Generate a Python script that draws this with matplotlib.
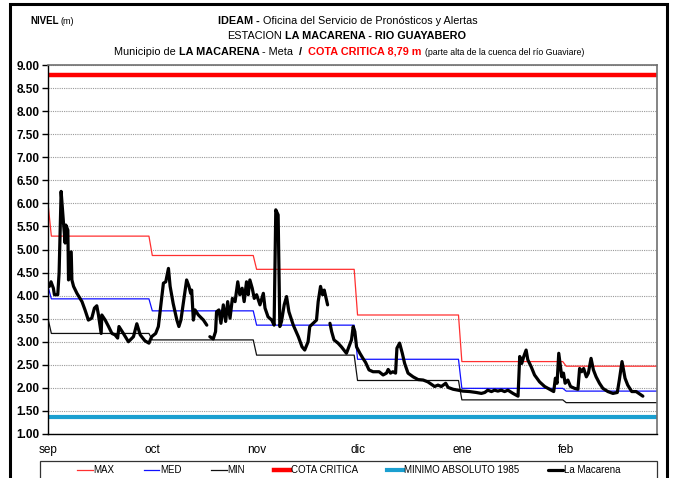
import matplotlib
matplotlib.use("Agg")
import matplotlib.pyplot as plt
import numpy as np
from matplotlib.patches import Rectangle

plt.rcParams['font.family'] = ['Liberation Sans Narrow', 'Liberation Sans', 'DejaVu Sans']

# meses (inicio en dias desde el 1 de sep)
month_labels = ['sep', 'oct', 'nov', 'dic', 'ene', 'feb']
month_start = [0, 30, 61, 91, 122, 153]
last_day = 180

# valores mensuales historicos (primer valor = 31 ago)
max_first, max_vals = 6.00, [5.29, 4.87, 4.57, 3.58, 2.57, 2.47]
med_first, med_vals = 4.20, [3.93, 3.67, 3.36, 2.62, 1.99, 1.93]
min_first, min_vals = 3.50, [3.18, 3.04, 2.71, 2.16, 1.74, 1.68]
cota_critica = 8.79
minimo_abs = 1.37

# serie La Macarena (dia, nivel); None = sin dato
mac_day = [-0.6, -0.1, 0.6, 0.9, 1.9, 2.3, 2.9, 3.6, 4.1, 4.3, 4.9, 5.1, 5.9, 6.1, 6.6,
           7.6, 9.1, 10.0, 11.0, 12.0, 12.8, 13.5, 14.0, 14.8, 15.0, 16.0, 17.0, 18.0,
           18.9, 19.7, 20.1, 21.4, 22.9, 24.4, 25.4, 26.4, 27.8, 29.0, 29.8, 31.0, 31.8,
           32.6, 33.3, 34.0, 34.8, 35.3, 36.2, 37.3, 37.9, 38.5, 39.5, 40.2, 40.9, 41.4,
           41.7, 42.2, 42.7, 43.7, 45.2, 46.2, 46.6,
           47.1, 48.1, 48.8, 49.1, 49.8, 50.4, 51.1, 51.8, 52.4, 53.1, 53.8, 54.6, 55.4,
           56.0, 56.7, 57.3, 58.0, 58.5, 59.0, 59.7, 60.3, 61.0, 62.0, 63.0, 63.5, 64.4,
           65.5, 66.2, 66.7, 67.4, 67.9, 68.4, 69.2, 69.9, 70.6, 71.9, 73.4, 74.5, 75.3,
           76.3, 76.8, 77.8, 78.8, 79.3, 80.0, 80.6, 81.1, 82.1, 82.4,
           82.8, 83.3, 84.0, 85.2, 86.2, 87.7, 89.2, 89.7, 90.2, 90.7, 91.7, 92.6, 93.4,
           94.4, 95.6, 97.4, 98.6, 99.6, 100.1, 100.8, 101.5, 102.3, 102.7, 103.5, 104.3,
           105.0, 106.0, 107.5, 109.0, 110.5, 111.9, 112.9, 113.9, 114.9, 115.9, 117.2,
           117.9, 119.4, 120.8, 122.3, 124.3, 126.3, 127.8, 128.8, 129.7, 130.8, 131.7,
           132.7, 133.7, 134.7, 135.7, 137.2, 138.7, 139.2, 139.8, 140.4, 141.1, 141.6,
           142.6, 143.6, 145.1, 146.6, 148.1, 149.3, 149.8, 150.3, 150.8, 151.3, 151.7,
           152.2, 152.7, 153.5, 154.3, 155.5, 156.5, 157.0, 157.6, 158.2, 159.0, 159.6,
           160.4, 161.1, 161.9, 162.9, 163.9, 165.4, 166.9, 168.2, 168.8, 169.6, 170.5,
           171.3, 172.5, 173.8, 174.8, 175.8]
mac_val = [4.20, 4.30, 4.16, 4.02, 4.02, 4.49, 6.26, 5.58, 5.14, 5.53, 5.42, 4.34, 4.95, 4.34, 4.20,
           4.05, 3.87, 3.69, 3.47, 3.51, 3.73, 3.78, 3.58, 3.18, 3.58, 3.47, 3.33, 3.18,
           3.15, 3.08, 3.33, 3.18, 3.00, 3.11, 3.39, 3.15, 3.02, 2.97, 3.11, 3.18, 3.33,
           3.83, 4.27, 4.30, 4.59, 4.20, 3.83, 3.47, 3.33, 3.47, 3.98, 4.34, 4.20, 4.05,
           4.12, 3.47, 3.69, 3.58, 3.47, 3.36, None,
           3.11, 3.06, 3.22, 3.65, 3.69, 3.40, 3.80, 3.44, 3.87, 3.51, 3.94, 3.87, 4.30,
           4.02, 4.16, 3.87, 4.30, 4.02, 4.34, 4.16, 3.94, 4.02, 3.80, 4.05, 3.73, 3.54,
           3.47, 3.36, 5.86, 5.75, 3.33, 3.44, 3.80, 3.98, 3.65, 3.36, 3.11, 2.89, 2.82,
           3.00, 3.33, 3.40, 3.47, 3.87, 4.20, 4.02, 4.12, 3.80, None,
           3.40, 3.22, 3.04, 2.97, 2.89, 2.75, 3.04, 3.33, 3.22, 2.89, 2.75, 2.64, 2.55,
           2.39, 2.35, 2.35, 2.28, 2.32, 2.40, 2.32, 2.35, 2.32, 2.86, 2.97, 2.75,
           2.53, 2.32, 2.24, 2.18, 2.17, 2.13, 2.08, 2.03, 2.06, 2.03, 2.10,
           2.01, 1.97, 1.95, 1.93, 1.92, 1.90, 1.88, 1.90, 1.95, 1.92, 1.95,
           1.93, 1.95, 1.92, 1.95, 1.88, 1.82, 2.68, 2.53, 2.68, 2.82, 2.61,
           2.46, 2.28, 2.13, 2.03, 1.97, 1.92, 2.21, 2.10, 2.75, 2.46, 2.24,
           2.32, 2.10, 2.17, 2.03, 1.99, 1.97, 2.42, 2.35, 2.42, 2.24, 2.32,
           2.64, 2.39, 2.24, 2.10, 1.99, 1.92, 1.88, 1.90, 2.17, 2.57, 2.21,
           2.06, 1.92, 1.92, 1.87, 1.82]

y_ticks = [1.0, 1.5, 2.0, 2.5, 3.0, 3.5, 4.0, 4.5, 5.0, 5.5, 6.0, 6.5, 7.0, 7.5, 8.0, 8.5, 9.0]


def monthly_to_daily(first, vals):
    days = np.arange(-1, last_day + 1)
    out = np.empty(len(days))
    for i, d in enumerate(days):
        if d < 0:
            out[i] = first
        else:
            k = np.searchsorted(month_start, d, side='right') - 1
            out[i] = vals[k]
    return days, out


W, H = 677, 478
fig = plt.figure(figsize=(W / 100, H / 100), dpi=100)
ax = fig.add_axes([48 / W, 1 - 434 / H, (657 - 48) / W, (434 - 65) / H])

days, mx = monthly_to_daily(max_first, max_vals)
_, md = monthly_to_daily(med_first, med_vals)
_, mn = monthly_to_daily(min_first, min_vals)

l_max, = ax.plot(days, mx, color='#ff3030', lw=0.9, label='MAX')
l_med, = ax.plot(days, md, color='#1010ff', lw=0.9, label='MED')
l_min, = ax.plot(days, mn, color='#101010', lw=0.9, label='MIN')
l_cota = ax.axhline(cota_critica, color='#ff0000', lw=3.2, label='COTA CRITICA')
l_minabs = ax.axhline(minimo_abs, color='#1a9fd0', lw=3.0, label='MINIMO ABSOLUTO 1985')
mac = np.array([np.nan if v is None else v for v in mac_val], dtype=float)
l_mac, = ax.plot(mac_day, mac, color='black', lw=2.3, solid_joinstyle='round',
                 solid_capstyle='round', label='La Macarena')

ax.set_xlim(-1, last_day)
ax.set_ylim(1, 9)
ax.set_yticks(y_ticks)
ax.set_yticklabels(['%.2f' % v for v in y_ticks], fontweight='bold', fontsize=8.5)
ax.set_xticks([-1] + month_start[1:])
ax.set_xticklabels(month_labels, fontsize=8.5)
ax.tick_params(axis='x', length=0, pad=7)
ax.tick_params(axis='y', length=4, width=1, pad=2)
ax.yaxis.grid(True, linestyle=(0, (1, 1)), color='#9a9a9a', lw=0.8)
ax.set_axisbelow(True)
for s in ['left', 'bottom']:
    ax.spines[s].set_color('black')
    ax.spines[s].set_linewidth(1.0)
for s in ['top', 'right']:
    ax.spines[s].set_color('#707070')
    ax.spines[s].set_linewidth(1.2)

# marco exterior
fig.patches.append(Rectangle((10 / W, -0.1), (667 - 10) / W, 1.1 - 4 / H,
                             transform=fig.transFigure, fill=False,
                             edgecolor='black', lw=2.2))

# titulos con partes en negrita / color
renderer = fig.canvas.get_renderer()


def rich_line(y, parts, cx=None, lx=None):
    ts, ws = [], []
    for s, wt, col, sz, gap in parts:
        t = fig.text(0, 1 - y / H, s, fontweight=wt, color=col, fontsize=sz, va='baseline')
        ws.append(t.get_window_extent(renderer).width + gap)
        ts.append(t)
    total = sum(ws)
    x = lx if lx is not None else cx - total / 2
    for t, w in zip(ts, ws):
        t.set_x(x / W)
        x += w


fs = 7.8
rich_line(24, [('NIVEL', 'bold', 'black', 7.0, 2), ('(m)', 'normal', 'black', 6.5, 0)], lx=30)
rich_line(24, [('IDEAM -', 'bold', 'black', fs, 3),
               ('Oficina del Servicio de Pronósticos y Alertas', 'normal', 'black', fs, 0)], cx=348)
rich_line(39, [('ESTACION', 'normal', 'black', fs, 3),
               ('LA MACARENA - RIO GUAYABERO', 'bold', 'black', fs, 0)], cx=347)
rich_line(55, [('Municipio de', 'normal', 'black', fs, 3),
               ('LA MACARENA', 'bold', 'black', fs, 3),
               ('- Meta', 'normal', 'black', fs, 6),
               ('/', 'bold', 'black', fs, 6),
               ('COTA CRITICA 8,79 m', 'bold', '#ff0000', fs, 3),
               ('(parte alta de la cuenca del río Guaviare)', 'normal', 'black', 6.3, 0)], cx=349)

# leyenda (marco aparte, a lo ancho)
fig.patches.append(Rectangle((40 / W, -0.05), (657 - 40) / W, 0.05 + 1 - 461 / H,
                             transform=fig.transFigure, fill=False,
                             edgecolor='#333333', lw=0.9))
leg = fig.legend(handles=[l_max, l_med, l_min, l_cota, l_minabs, l_mac],
                 loc='center', bbox_to_anchor=(349 / W, 1 - 470 / H),
                 ncol=6, fontsize=7, handlelength=1.6, handletextpad=0.1,
                 columnspacing=3.0, frameon=False, borderaxespad=0)
for h, lw in zip(leg.get_lines(), [0.9, 0.9, 0.9, 3.2, 3.0, 2.3]):
    h.set_linewidth(lw)

fig.savefig('out.png', dpi=100)
